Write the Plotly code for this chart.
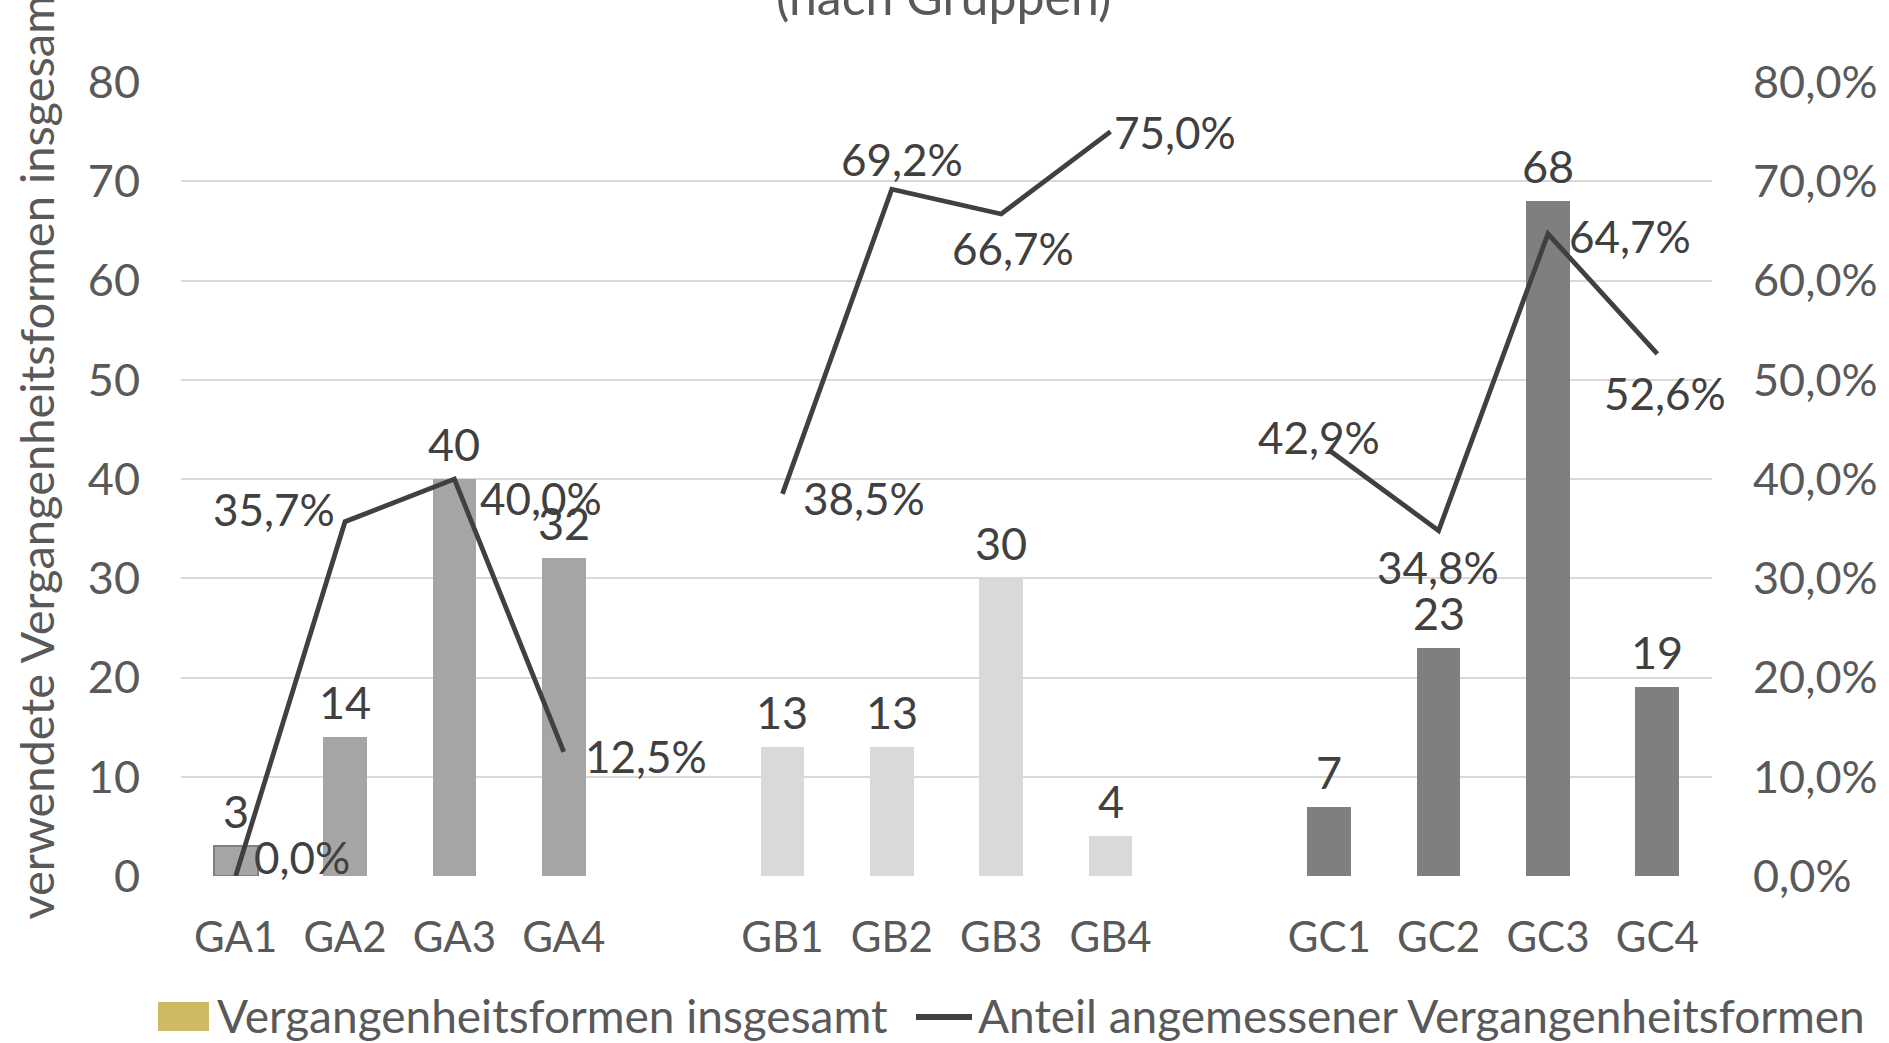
import plotly.graph_objects as go

# Kategorien (drei Gruppen A, B, C mit je vier Teilgruppen)
categories = ["GA1", "GA2", "GA3", "GA4",
              "GB1", "GB2", "GB3", "GB4",
              "GC1", "GC2", "GC3", "GC4"]

# verwendete Vergangenheitsformen insgesamt
totals = [3, 14, 40, 32,
          13, 13, 30, 4,
          7, 23, 68, 19]

# Anteil angemessener Vergangenheitsformen (in %)
share = [0.0, 35.7, 40.0, 12.5,
         38.5, 69.2, 66.7, 75.0,
         42.9, 34.8, 64.7, 52.6]

left_ticks = [0, 10, 20, 30, 40, 50, 60, 70, 80]
right_ticks = [0, 10, 20, 30, 40, 50, 60, 70, 80]

series_names = ["Vergangenheitsformen insgesamt",
                "Anteil angemessener Vergangenheitsformen"]

GROUP = 4
FONT = "Lato, 'Open Sans', sans-serif"
TXT = "#595959"
DARK = "#404040"
GOLD = "#CFB963"
group_colors = ["#A5A5A5", "#D9D9D9", "#7F7F7F"]

# plot area in pixels
W, H = 1889, 1043
L, R, T, B = 181, 177, 82, 167
PW, PH = W - L - R, H - T - B


def px_x(x):
    return (x - L) / PW


def px_y(y):
    return (H - B - y) / PH


# one empty slot between the groups
pos = [i + i // GROUP for i in range(len(categories))]
bar_colors = [group_colors[i // GROUP] for i in range(len(categories))]
line_w = [2 if i == 0 else 0 for i in range(len(categories))]

# line coordinates with breaks between the groups
lx, ly = [], []
for i, (p, v) in enumerate(zip(pos, share)):
    if i > 0 and i % GROUP == 0:
        lx.append(p - 1)
        ly.append(None)
    lx.append(p)
    ly.append(v)

fig = go.Figure()

fig.add_trace(go.Bar(
    x=pos, y=totals, width=0.40, showlegend=False, name=series_names[0],
    marker=dict(color=bar_colors, line=dict(color="#7F7F7F", width=line_w)),
))

fig.add_trace(go.Scatter(
    x=lx, y=ly, yaxis="y2", mode="lines", connectgaps=False, showlegend=False,
    name=series_names[1], line=dict(color=DARK, width=4.8),
))

# value labels above the columns
for p, v in zip(pos, totals):
    fig.add_annotation(x=p, y=v, text=str(v), showarrow=False, yshift=35,
                       font=dict(family=FONT, size=45, color=DARK))

# label offsets (px) for the percentage labels
label_shift = [(66, 19), (-71, 13), (87, -19), (82, -4),
               (82, -4), (10, 30), (12, -34), (64, 0),
               (-10, 13), (-1, -36), (82, -2), (8, -39)]

for p, v, (dx, dy) in zip(pos, share, label_shift):
    fig.add_annotation(x=p, y=v, yref="y2", text=f"{v:.1f}%".replace(".", ","),
                       showarrow=False, xshift=dx, yshift=dy,
                       font=dict(family=FONT, size=44, color=DARK))

# y axis title
fig.add_annotation(xref="paper", yref="paper", x=px_x(36), y=0.537,
                   xanchor="center", yanchor="middle",
                   text="verwendete Vergangenheitsformen insgesamt",
                   textangle=-90, showarrow=False,
                   font=dict(family=FONT, size=47, color=TXT))

# chart title (second line)
fig.add_annotation(xref="paper", yref="paper", x=px_x(943), y=px_y(28),
                   text="(nach Gruppen)", showarrow=False, yanchor="bottom",
                   font=dict(family=FONT, size=50, color=TXT))

# legend below the chart
LEG_Y = 1015
fig.add_shape(type="rect", xref="paper", yref="paper",
              x0=px_x(158), x1=px_x(209), y0=px_y(1031), y1=px_y(1002),
              fillcolor=GOLD, line=dict(width=0))
fig.add_annotation(xref="paper", yref="paper", x=px_x(215), y=px_y(LEG_Y),
                   xanchor="left", yanchor="middle", text=series_names[0],
                   showarrow=False, font=dict(family=FONT, size=46, color=TXT))
fig.add_shape(type="line", xref="paper", yref="paper",
              x0=px_x(916), x1=px_x(972), y0=px_y(LEG_Y + 2), y1=px_y(LEG_Y + 2),
              line=dict(color=DARK, width=6))
fig.add_annotation(xref="paper", yref="paper", x=px_x(976), y=px_y(LEG_Y),
                   xanchor="left", yanchor="middle", text=series_names[1],
                   showarrow=False, font=dict(family=FONT, size=46, color=TXT))

fig.update_layout(
    width=W, height=H,
    margin=dict(l=L, r=R, t=T, b=B, autoexpand=False),
    plot_bgcolor="white", paper_bgcolor="white",
    font=dict(family=FONT, size=42, color=TXT),
    bargap=0, barmode="overlay", showlegend=False,
    xaxis=dict(range=[-0.5, pos[-1] + 0.5], tickvals=pos, ticktext=categories,
               showgrid=False, zeroline=False, showline=False, ticks="",
               ticklabelstandoff=33,
               tickfont=dict(family=FONT, size=42, color=TXT)),
    yaxis=dict(range=[0, 80], tickvals=left_ticks, ticktext=[str(t) for t in left_ticks],
               showgrid=True, gridcolor="#D9D9D9", gridwidth=2, zeroline=False,
               ticks="", ticklabelstandoff=40,
               tickfont=dict(family=FONT, size=45, color=TXT)),
    yaxis2=dict(range=[0, 80], overlaying="y", side="right", tickvals=right_ticks,
                ticktext=[f"{t:.1f}%".replace(".", ",") for t in right_ticks],
                showgrid=False, zeroline=False, ticks="", ticklabelstandoff=40,
                tickfont=dict(family=FONT, size=45, color=TXT)),
)

fig.write_html("out.html")
